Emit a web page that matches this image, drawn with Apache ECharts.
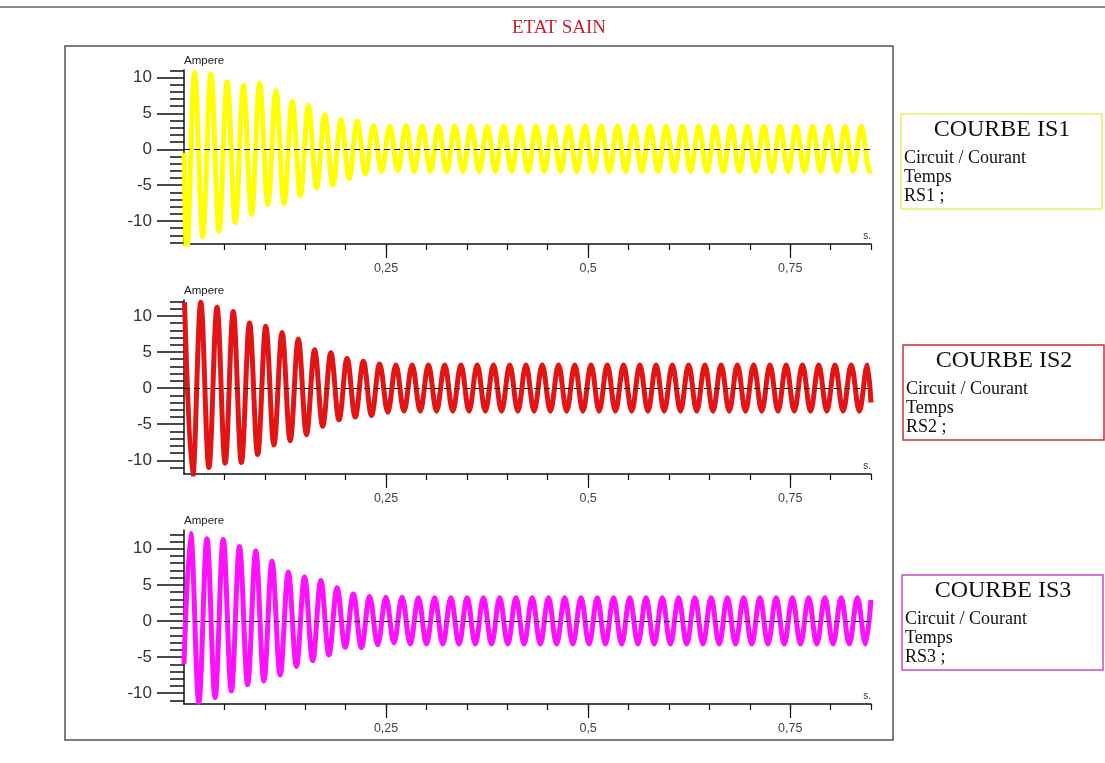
<!DOCTYPE html>
<html><head><meta charset="utf-8">
<script src="https://cdn.jsdelivr.net/npm/echarts@6/dist/echarts.min.js"></script>
<style>html,body{margin:0;padding:0;background:#fff}#c{width:1105px;height:763px}</style>
</head><body><div id="c"></div>
<script>
// ---- data ----
const chartTitle = 'ETAT SAIN';
const halfPeriod = 0.01006;            // time between successive extrema (s)
const xMajorTicks = [0.25, 0.5, 0.75];
const xMinorTicks = [0.05,0.1,0.15,0.2,0.25,0.3,0.35,0.4,0.45,0.5,0.55,0.6,0.65,0.7,0.75,0.8,0.85];
const yMajorTicks = [-10, -5, 0, 5, 10];
const yMinorTicks1 = [-13,-12,-11,-10,-9,-8,-7,-6,-5,-4,-3,-2,-1,0,1,2,3,4,5,6,7,8,9,10,11];
const yMinorTicks2 = [-11,-10,-9,-8,-7,-6,-5,-4,-3,-2,-1,0,1,2,3,4,5,6,7,8,9,10,11,12];
const yMinorTicks3 = [-11,-10,-9,-8,-7,-6,-5,-4,-3,-2,-1,0,1,2,3,4,5,6,7,8,9,10,11,12];
const yRange1 = [-13.2, 11.05];
const yRange2 = [-11.9, 12.2];
const yRange3 = [-11.5, 12.6];
const xRange = [0, 0.85];

// IS1 (yellow): start point, time of first extremum, extrema values, end point
const is1Start = [[0, -0.5]];
const is1FirstTime = 0.0031;
const is1Transient = [-14.5, 10.7, -12.15, 10.5, -11.4, 9.4, -10.2, 8.9, -9.05, 9.2, -7.7, 8.2, -7.6, 6.7,
  -6.5, 6.1, -5.4, 4.8, -5.0, 4.1, -4.05, 3.9, -3.45, 3.3, -3.1, 3.2, -3.0, 3.3];
const is1Steady = [
  -3.1, 3.2, -3.1, 3.2, -3.1, 3.2, -3.1, 3.2,
  -3.1, 3.2, -3.1, 3.2, -3.1, 3.2, -3.1, 3.2,
  -3.1, 3.2, -3.1, 3.2, -3.1, 3.2, -3.1, 3.2,
  -3.1, 3.2, -3.1, 3.2, -3.1, 3.2, -3.1, 3.2,
  -3.1, 3.2, -3.1, 3.2, -3.1, 3.2, -3.1, 3.2,
  -3.1, 3.2, -3.1, 3.2, -3.1, 3.2, -3.1, 3.2,
  -3.1, 3.2, -3.1, 3.2, -3.1, 3.2, -3.1, 3.2,
  -3.1];
const is1End = [[0.85, -2.8]];

// IS2 (red)
const is2Start = [];
const is2FirstTime = 0.0006;
const is2Transient = [11.9, -12.3, 11.9, -11.0, 11.2, -10.4, 10.6, -10.3, 9.0, -9.2, 8.55, -7.9, 7.7, -7.3,
  6.8, -6.45, 5.3, -5.3, 4.9, -4.4, 4.1, -4.0, 3.7, -3.8, 3.35, -3.35, 3.2, -3.2];
const is2Steady = [
  3.2, -3.2, 3.2, -3.2, 3.2, -3.2, 3.2, -3.2,
  3.2, -3.2, 3.2, -3.2, 3.2, -3.2, 3.2, -3.2,
  3.2, -3.2, 3.2, -3.2, 3.2, -3.2, 3.2, -3.2,
  3.2, -3.2, 3.2, -3.2, 3.2, -3.2, 3.2, -3.2,
  3.2, -3.2, 3.2, -3.2, 3.2, -3.2, 3.2, -3.2,
  3.2, -3.2, 3.2, -3.2, 3.2, -3.2, 3.2, -3.2,
  3.2, -3.2, 3.2, -3.2, 3.2, -3.2, 3.2, -3.2,
  3.2];
const is2End = [[0.85, -2.0]];

// IS3 (magenta)
const is3Start = [[0, -6.0]];
const is3FirstTime = 0.0083;
const is3Transient = [12.1, -11.3, 11.4, -10.6, 11.3, -9.7, 10.3, -8.8, 9.7, -8.3, 8.3, -7.5, 6.8, -6.3,
  6.1, -5.5, 5.6, -4.7, 4.6, -3.65, 3.75, -3.7, 3.4, -3.3, 3.3, -3.0, 3.3];
const is3Steady = [
  -3.2, 3.2, -3.2, 3.2, -3.2, 3.2, -3.2, 3.2,
  -3.2, 3.2, -3.2, 3.2, -3.2, 3.2, -3.2, 3.2,
  -3.2, 3.2, -3.2, 3.2, -3.2, 3.2, -3.2, 3.2,
  -3.2, 3.2, -3.2, 3.2, -3.2, 3.2, -3.2, 3.2,
  -3.2, 3.2, -3.2, 3.2, -3.2, 3.2, -3.2, 3.2,
  -3.2, 3.2, -3.2, 3.2, -3.2, 3.2, -3.2, 3.2,
  -3.2, 3.2, -3.2, 3.2, -3.2, 3.2, -3.2, 3.2,
  -3.2];
const is3End = [[0.85, 2.9]];

const legendTitles = ['COURBE IS1', 'COURBE IS2', 'COURBE IS3'];
const legendLines = [
  ['Circuit / Courant', 'Temps', 'RS1 ;'],
  ['Circuit / Courant', 'Temps', 'RS2 ;'],
  ['Circuit / Courant', 'Temps', 'RS3 ;']
];
const yName = 'Ampere';
const xName = 's.';

// ---- build ----
function buildSeries(start, t0, transient, steady, end) {
  const pts = start.slice();
  transient.concat(steady).forEach((v, i) => pts.push([t0 + i * halfPeriod, v]));
  return pts.concat(end);
}
const seriesData = [
  buildSeries(is1Start, is1FirstTime, is1Transient, is1Steady, is1End),
  buildSeries(is2Start, is2FirstTime, is2Transient, is2Steady, is2End),
  buildSeries(is3Start, is3FirstTime, is3Transient, is3Steady, is3End)
];
const colors = ['#ffff00', '#e31414', '#ff10ff'];
const boxColors = ['#eeee66', '#c83030', '#c050c0'];
const yRanges = [yRange1, yRange2, yRange3];
const yMinor = [yMinorTicks1, yMinorTicks2, yMinorTicks3];
const gridTops = [70, 300, 530];
const boxTops = [114, 345, 575];
const boxLefts = [901, 903, 902];

const grids = [], xAxes = [], yAxes = [], series = [];
const axisColor = '#111';
for (let k = 0; k < 3; k++) {
  grids.push({ left: 184, top: gridTops[k], width: 687, height: 174 });
  xAxes.push({
    gridIndex: k, type: 'value', min: xRange[0], max: xRange[1], position: 'bottom',
    axisLine: { show: true, onZero: false, lineStyle: { color: axisColor, width: 1.5 } },
    axisTick: { show: true, length: 14, customValues: xMajorTicks, lineStyle: { color: axisColor, width: 1.2 } },
    axisLabel: { show: true, customValues: xMajorTicks, margin: 18, fontSize: 12.5,
      fontFamily: 'Liberation Sans', color: '#444', formatter: v => String(v).replace('.', ',') },
    splitLine: { show: false },
    name: xName, nameLocation: 'end', nameGap: 0,
    nameTextStyle: { align: 'right', verticalAlign: 'bottom', fontSize: 10, fontFamily: 'Liberation Sans',
      color: '#333', padding: [0, 0, 3, 0] }
  });
  xAxes.push({
    gridIndex: k, type: 'value', min: xRange[0], max: xRange[1], position: 'bottom',
    axisLine: { show: false, onZero: false },
    axisTick: { show: true, length: 6, customValues: xMinorTicks, lineStyle: { color: axisColor, width: 1.2 } },
    axisLabel: { show: false }, splitLine: { show: false }
  });
  yAxes.push({
    gridIndex: k, type: 'value', min: yRanges[k][0], max: yRanges[k][1], position: 'left',
    axisLine: { show: true, onZero: false, lineStyle: { color: axisColor, width: 1.5 } },
    axisTick: { show: true, length: 27, customValues: yMajorTicks, lineStyle: { color: axisColor, width: 1.5 } },
    axisLabel: { show: true, customValues: yMajorTicks, margin: 32, fontSize: 17,
      fontFamily: 'Liberation Sans', color: '#333' },
    splitLine: { show: false },
    name: yName, nameLocation: 'end', nameGap: 3,
    nameTextStyle: { align: 'left', verticalAlign: 'bottom', fontSize: 11.5, fontFamily: 'Liberation Sans', color: '#222' }
  });
  yAxes.push({
    gridIndex: k, type: 'value', min: yRanges[k][0], max: yRanges[k][1], position: 'left',
    axisLine: { show: false, onZero: false },
    axisTick: { show: true, length: 14, customValues: yMinor[k], lineStyle: { color: axisColor, width: 1.5 } },
    axisLabel: { show: false }, splitLine: { show: false }
  });
  series.push({
    type: 'line', xAxisIndex: 2 * k, yAxisIndex: 2 * k, data: seriesData[k],
    showSymbol: false, smooth: 0.36, smoothMonotone: 'x', clip: true,
    lineStyle: { color: colors[k], width: 5 }, itemStyle: { color: colors[k] },
    markLine: { silent: true, symbol: ['none', 'none'], label: { show: false },
      lineStyle: { color: '#000', type: [6, 4], width: 1.2 }, data: [{ yAxis: 0 }] }
  });
}

const graphics = [
  { type: 'line', shape: { x1: 0, y1: 7, x2: 1105, y2: 7 }, style: { stroke: '#888', lineWidth: 2 } },
  { type: 'rect', shape: { x: 65, y: 46, width: 828, height: 694 }, style: { fill: 'none', stroke: '#555', lineWidth: 1.5 } }
];
for (let k = 0; k < 3; k++) {
  const L = boxLefts[k], T = boxTops[k];
  graphics.push({ type: 'rect', shape: { x: L, y: T, width: 201, height: 95 },
    style: { fill: '#fff', stroke: boxColors[k], lineWidth: 1.5 } });
  graphics.push({ type: 'text', x: L + 101, y: T + 16,
    style: { text: legendTitles[k], font: '24px "Liberation Serif"', fill: '#111', textAlign: 'center', textVerticalAlign: 'middle' } });
  legendLines[k].forEach((s, j) => {
    graphics.push({ type: 'text', x: L + 3, y: T + 44 + 19 * j,
      style: { text: s, font: '18px "Liberation Serif"', fill: '#111', textAlign: 'left', textVerticalAlign: 'middle' } });
  });
}

const chart = echarts.init(document.getElementById('c'), null, { renderer: 'canvas' });
chart.setOption({
  animation: false,
  backgroundColor: '#fff',
  title: { text: chartTitle, left: 512, top: 19, padding: 0,
    textStyle: { fontFamily: 'Liberation Serif', fontSize: 19, fontWeight: 'normal', color: '#cc1f2a' } },
  grid: grids, xAxis: xAxes, yAxis: yAxes, series: series,
  graphic: graphics
});
</script></body></html>
